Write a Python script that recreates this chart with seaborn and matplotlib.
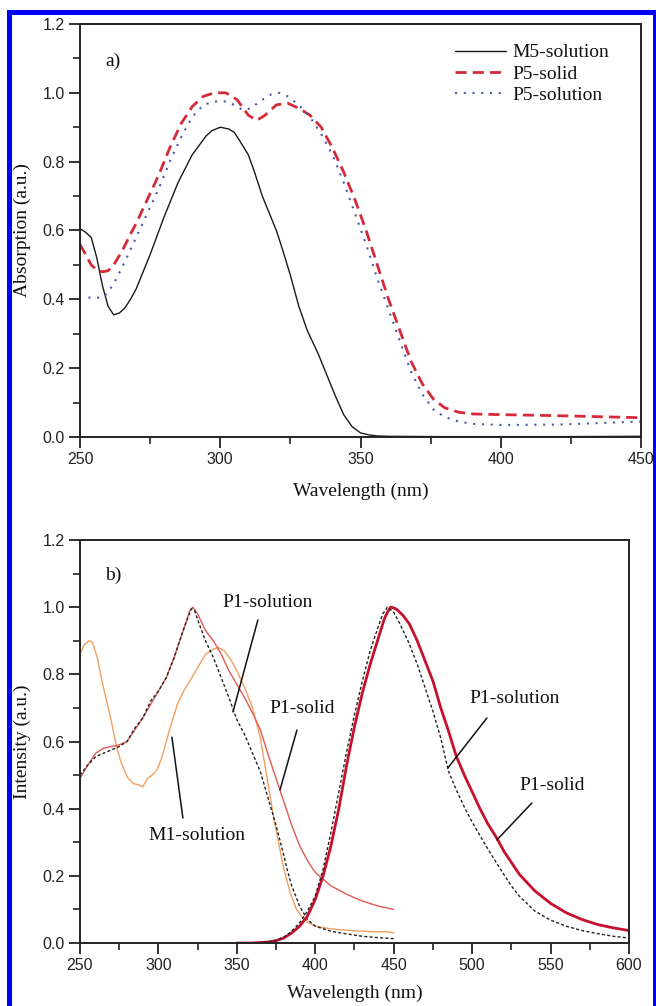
import matplotlib
matplotlib.use("Agg")
import matplotlib.pyplot as plt
from matplotlib.patches import Rectangle
from matplotlib.ticker import MultipleLocator
import seaborn as sns

# ---------------- data: panel a (absorption) ----------------
m5_x = [250, 252, 254, 256, 258, 260, 262, 264, 266, 268, 270, 275, 280, 285, 290, 295, 297,
        300, 303, 305, 307, 310, 312, 315, 317, 320, 322, 325, 328, 331, 335, 338, 341, 344,
        347, 350, 353, 356, 360, 380, 400, 420, 450]
m5_y = [0.605, 0.595, 0.58, 0.52, 0.44, 0.38, 0.355, 0.36, 0.375, 0.40, 0.43, 0.53, 0.64,
        0.74, 0.82, 0.875, 0.89, 0.90, 0.895, 0.885, 0.86, 0.82, 0.775, 0.70, 0.66, 0.60, 0.55,
        0.47, 0.38, 0.31, 0.24, 0.18, 0.12, 0.065, 0.03, 0.012, 0.006, 0.003, 0.002, 0.001,
        0.001, 0.001, 0.002]

p5_solid_x = [250, 252, 254, 256, 258, 260, 262, 265, 268, 270, 274, 278, 282, 286, 290, 294,
              298, 302, 306, 310, 313, 316, 320, 324, 328, 332, 336, 340, 344, 348, 352, 356,
              360, 364, 368, 372, 376, 380, 385, 390, 400, 420, 440, 450]
p5_solid_y = [0.56, 0.53, 0.50, 0.485, 0.48, 0.483, 0.50, 0.54, 0.59, 0.62, 0.69, 0.76, 0.84,
              0.91, 0.96, 0.99, 1.0, 1.0, 0.98, 0.935, 0.92, 0.935, 0.965, 0.97, 0.955, 0.935,
              0.90, 0.84, 0.77, 0.69, 0.60, 0.50, 0.40, 0.31, 0.22, 0.155, 0.11, 0.085, 0.072,
              0.067, 0.065, 0.062, 0.058, 0.056]

p5_sol_x = [253, 256, 258, 260, 263, 266, 270, 274, 278, 282, 286, 290, 294, 298, 302, 305,
            308, 311, 314, 318, 321, 324, 328, 332, 336, 340, 344, 348, 352, 356, 360, 364,
            368, 372, 376, 380, 385, 390, 400, 420, 440, 450]
p5_sol_y = [0.405, 0.405, 0.405, 0.42, 0.46, 0.51, 0.58, 0.65, 0.72, 0.80, 0.87, 0.93, 0.965,
            0.975, 0.975, 0.965, 0.95, 0.955, 0.975, 0.995, 1.0, 0.99, 0.965, 0.93, 0.88, 0.82,
            0.74, 0.65, 0.56, 0.46, 0.37, 0.28, 0.19, 0.125, 0.08, 0.058, 0.045, 0.038, 0.035,
            0.036, 0.042, 0.045]

legend_labels = ["M5-solution", "P5-solid", "P5-solution"]

# ---------------- data: panel b (excitation / emission) ----------------
p1sol_exc_x = [250, 255, 260, 265, 270, 275, 280, 285, 290, 295, 300, 305, 310, 315, 318, 321,
               323, 326, 330, 335, 340, 345, 350, 355, 360, 365, 370, 375, 380, 382, 385, 390,
               395, 400, 410, 420, 430, 440, 450]
p1sol_exc_y = [0.50, 0.53, 0.555, 0.565, 0.575, 0.585, 0.60, 0.64, 0.67, 0.72, 0.75, 0.79,
               0.85, 0.92, 0.96, 0.995, 0.99, 0.95, 0.90, 0.85, 0.79, 0.73, 0.665, 0.62, 0.565,
               0.51, 0.43, 0.35, 0.26, 0.22, 0.17, 0.11, 0.07, 0.05, 0.035, 0.027, 0.02, 0.016,
               0.013]

p1sol_exc_red_x = [250, 255, 260, 265, 270, 275, 280, 285, 290, 295, 300, 305, 310, 315, 318,
                   320, 322, 325, 330, 335, 340, 345, 350, 355, 360, 365, 370, 375, 380, 385,
                   390, 395, 400, 405, 410, 420, 430, 440, 450]
p1sol_exc_red_y = [0.49, 0.53, 0.565, 0.58, 0.585, 0.59, 0.60, 0.635, 0.67, 0.71, 0.75, 0.79,
                   0.85, 0.92, 0.96, 0.99, 1.0, 0.98, 0.93, 0.90, 0.86, 0.81, 0.77, 0.73, 0.685,
                   0.635, 0.56, 0.49, 0.42, 0.35, 0.29, 0.245, 0.21, 0.19, 0.17, 0.145, 0.125,
                   0.11, 0.10]

m1_x = [250, 253, 256, 258, 261, 264, 267, 270, 273, 276, 280, 284, 288, 290, 293, 296, 299,
        302, 305, 308, 312, 316, 320, 325, 330, 335, 338, 342, 346, 350, 355, 360, 365, 370,
        374, 377, 380, 384, 388, 392, 396, 400, 410, 420, 430, 440, 445, 450]
m1_y = [0.86, 0.89, 0.90, 0.895, 0.85, 0.78, 0.72, 0.66, 0.59, 0.54, 0.495, 0.475, 0.47, 0.465,
        0.49, 0.50, 0.515, 0.55, 0.60, 0.65, 0.71, 0.75, 0.78, 0.82, 0.86, 0.875, 0.88, 0.87,
        0.845, 0.81, 0.76, 0.70, 0.61, 0.47, 0.36, 0.29, 0.22, 0.15, 0.10, 0.075, 0.06, 0.05,
        0.042, 0.038, 0.035, 0.033, 0.034, 0.03]

p1solid_em_x = [350, 360, 370, 375, 380, 385, 390, 395, 400, 405, 410, 415, 420, 425, 430, 435,
                440, 444, 446, 448, 450, 452, 456, 460, 465, 470, 475, 480, 485, 490, 495, 500,
                505, 510, 516, 520, 530, 540, 550, 560, 570, 580, 590, 600]
p1solid_em_y = [0.0, 0.0, 0.003, 0.007, 0.015, 0.03, 0.05, 0.08, 0.13, 0.20, 0.29, 0.40, 0.53,
                0.645, 0.745, 0.83, 0.905, 0.965, 0.985, 1.0, 0.998, 0.993, 0.975, 0.95, 0.90,
                0.84, 0.78, 0.70, 0.63, 0.555, 0.50, 0.45, 0.40, 0.355, 0.31, 0.275, 0.205,
                0.155, 0.118, 0.09, 0.07, 0.055, 0.045, 0.037]

p1sol_em_x = [350, 360, 370, 375, 380, 385, 390, 395, 400, 405, 410, 415, 420, 425, 430, 435,
              440, 443, 446, 450, 454, 460, 465, 470, 475, 480, 485, 490, 495, 500, 505, 510,
              518, 525, 530, 540, 550, 560, 570, 580, 590, 600]
p1sol_em_y = [0.0, 0.0, 0.003, 0.008, 0.018, 0.035, 0.06, 0.095, 0.14, 0.22, 0.33, 0.45, 0.57,
              0.68, 0.78, 0.87, 0.94, 0.98, 1.0, 0.985, 0.95, 0.89, 0.83, 0.76, 0.69, 0.61,
              0.51, 0.455, 0.405, 0.36, 0.32, 0.28, 0.22, 0.17, 0.14, 0.095, 0.068, 0.05, 0.037,
              0.028, 0.02, 0.015]

# annotations: label, text position, leader start, leader end (data coords)
annot_text = ["P1-solution", "P1-solid", "M1-solution", "P1-solution", "P1-solid"]
annot_xy = [(369.8, 1.015), (391.5, 0.697), (324.6, 0.32), (527.2, 0.727), (550.8, 0.468)]
annot_from = [(363.4, 0.962), (388.3, 0.634), (315.6, 0.372), (509.4, 0.67), (538.1, 0.417)]
annot_to = [(347.5, 0.688), (377.5, 0.456), (308.6, 0.613), (484.5, 0.521), (515.8, 0.307)]

# ---------------- styling ----------------
sns.set_style("ticks")
plt.rcParams["font.family"] = ["Liberation Sans", "DejaVu Sans"]
plt.rcParams["lines.solid_joinstyle"] = "round"
plt.rcParams["lines.dash_joinstyle"] = "round"
SERIF = ["Liberation Serif", "DejaVu Serif"]

W, H = 656, 1006
fig = plt.figure(figsize=(W / 100, H / 100), dpi=100)
fig.patch.set_facecolor("white")

def px_axes(l, t, r, b):
    return [l / W, 1 - b / H, (r - l) / W, (b - t) / H]

ax_a = fig.add_axes(px_axes(80, 24, 641, 437))
ax_b = fig.add_axes(px_axes(80, 540, 629, 943))

def style_axes(ax, xl_y):
    ax.set_ylim(0, 1.2)
    ax.yaxis.set_major_locator(MultipleLocator(0.2))
    ax.yaxis.set_minor_locator(MultipleLocator(0.1))
    ax.xaxis.set_major_locator(MultipleLocator(50))
    ax.xaxis.set_minor_locator(MultipleLocator(25))
    ax.yaxis.set_major_formatter(matplotlib.ticker.FormatStrFormatter("%.1f"))
    ax.tick_params(which="major", direction="out", length=8, width=1.3, labelsize=11.5,
                   colors="#222222", pad=3, top=False, right=False)
    ax.tick_params(which="minor", direction="out", length=5, width=1.2, colors="#222222",
                   top=False, right=False)
    for s in ax.spines.values():
        s.set_visible(True)
        s.set_linewidth(1.4)
        s.set_color("#222222")
    ax.set_xlabel("Wavelength (nm)", family=SERIF, fontsize=14, color="#111111")
    ax.xaxis.set_label_coords(0.5, xl_y)

# ---------- panel a ----------
sns.lineplot(x=m5_x, y=m5_y, ax=ax_a, color="#1a1a1a", linewidth=1.0,
             label=legend_labels[0], estimator=None, sort=False)
sns.lineplot(x=p5_solid_x, y=p5_solid_y, ax=ax_a, color="#d42a3a", linewidth=2.0,
             linestyle=(0, (4, 2.2)), label=legend_labels[1], estimator=None, sort=False)
sns.lineplot(x=p5_sol_x, y=p5_sol_y, ax=ax_a, color="#4a5aa8", linewidth=1.5,
             linestyle=(0, (1, 3.2)), label=legend_labels[2], estimator=None, sort=False)
ax_a.set_xlim(250, 450)
style_axes(ax_a, -0.110)
ax_a.set_ylabel("Absorption (a.u.)", family=SERIF, fontsize=14, color="#111111")
ax_a.yaxis.set_label_coords(-0.087, 0.5)
leg = ax_a.legend(loc="upper left", bbox_to_anchor=(0.668, 0.952), frameon=False,
                  borderpad=0, borderaxespad=0, handlelength=2.65, handletextpad=0.3,
                  labelspacing=0.18, prop={"family": SERIF, "size": 14})
for t in leg.get_texts():
    t.set_color("#111111")
ax_a.text(0.045, 0.91, "a)", transform=ax_a.transAxes, family=SERIF, fontsize=14,
          va="center", ha="left", color="#111111")

# ---------- panel b ----------
sns.lineplot(x=m1_x, y=m1_y, ax=ax_b, color="#f0a060", linewidth=1.0,
             estimator=None, sort=False, legend=False)
sns.lineplot(x=p1sol_exc_red_x, y=p1sol_exc_red_y, ax=ax_b, color="#e05a55", linewidth=1.0,
             estimator=None, sort=False, legend=False)
sns.lineplot(x=p1sol_exc_x, y=p1sol_exc_y, ax=ax_b, color="#222222", linewidth=1.0,
             linestyle=(0, (2.2, 1.6)), estimator=None, sort=False, legend=False)
sns.lineplot(x=p1solid_em_x, y=p1solid_em_y, ax=ax_b, color="#c8102e", linewidth=2.0,
             estimator=None, sort=False, legend=False)
sns.lineplot(x=p1sol_em_x, y=p1sol_em_y, ax=ax_b, color="#222222", linewidth=1.0,
             linestyle=(0, (2.2, 1.6)), estimator=None, sort=False, legend=False)
ax_b.set_xlim(250, 600)
style_axes(ax_b, -0.104)
ax_b.set_ylabel("Intensity (a.u.)", family=SERIF, fontsize=14, color="#111111")
ax_b.yaxis.set_label_coords(-0.089, 0.5)
ax_b.text(0.046, 0.913, "b)", transform=ax_b.transAxes, family=SERIF, fontsize=14,
          va="center", ha="left", color="#111111")
for txt, pos, p0, p1 in zip(annot_text, annot_xy, annot_from, annot_to):
    ax_b.text(pos[0], pos[1], txt, family=SERIF, fontsize=14, ha="center", va="center",
              color="#111111")
    ax_b.annotate("", xy=p1, xytext=p0,
                  arrowprops=dict(arrowstyle="-", lw=1.1, color="#111111",
                                  shrinkA=0, shrinkB=0))

# ---------- blue frame ----------
blue = "#0000ff"
fig.add_artist(Rectangle((7 / W, 0), 5 / W, (H - 10) / H, transform=fig.transFigure,
                         color=blue, lw=0))
fig.add_artist(Rectangle((7 / W, (H - 15) / H), (W - 7) / W, 5 / H, transform=fig.transFigure,
                         color=blue, lw=0))
fig.add_artist(Rectangle((653 / W, 0), 3 / W, (H - 10) / H, transform=fig.transFigure,
                         color=blue, lw=0))

fig.savefig("out.png", dpi=100, facecolor="white")
